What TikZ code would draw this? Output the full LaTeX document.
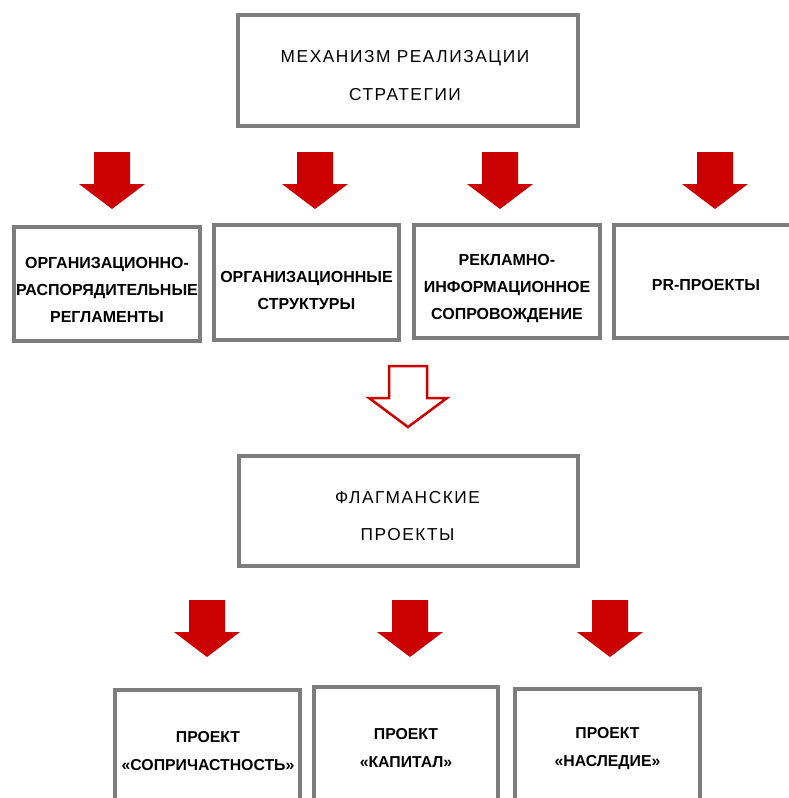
\documentclass[tikz,border=0pt]{standalone}
\usepackage{fontspec}
\setmainfont{Liberation Sans}
\newfontfamily\spacedfont{Liberation Sans}[LetterSpace=9]
\definecolor{boxgray}{RGB}{125,125,125}
\definecolor{arrowred}{RGB}{204,0,0}
\tikzset{
  box/.style={draw=boxgray, line width=3.5pt, fill=white, rectangle, inner sep=0pt},
  headtxt/.style={font=\spacedfont\fontsize{17.3}{38}\selectfont, align=center, inner sep=0pt},
  bodytxt/.style={font=\bfseries\fontsize{16}{27}\selectfont, align=center, inner sep=0pt},
  redarrow/.pic={\fill[arrowred] (-18,0) -- (18,0) -- (18,32) -- (33,32) -- (0,57) -- (-33,32) -- (-18,32) -- cycle;},
  hollowarrow/.pic={\draw[arrowred, line width=2.5pt, fill=white, line join=miter] (-19,0) -- (19,0) -- (19,32) -- (39,32) -- (0,61) -- (-39,32) -- (-19,32) -- cycle;}
}
\begin{document}
\begin{tikzpicture}[x=1pt,y=-1pt]
\clip (0,0) rectangle (789,798);
\fill[white] (0,0) rectangle (789,798);
% top box
\node[box, minimum width=340, minimum height=111] (top) at (408,70.5) {};
\node[headtxt] (toptxt) at (405,76) {МЕХАНИЗМ РЕАЛИЗАЦИИ\\СТРАТЕГИИ};
% red arrows row 1
\pic at (112,152) {redarrow};
\pic at (315,152) {redarrow};
\pic at (500,152) {redarrow};
\pic at (715,152) {redarrow};
% middle boxes
\node[box, minimum width=186, minimum height=114] (m1) at (107,284) {};
\node[bodytxt] (m1txt) at (107,289.5) {ОРГАНИЗАЦИОННО-\\РАСПОРЯДИТЕЛЬНЫЕ\\РЕГЛАМЕНТЫ};
\node[box, minimum width=185, minimum height=115] (m2) at (306.5,282.5) {};
\node[bodytxt] (m2txt) at (306.5,290.5) {ОРГАНИЗАЦИОННЫЕ\\СТРУКТУРЫ};
\node[box, minimum width=186, minimum height=113] (m3) at (507,281.5) {};
\node[bodytxt] (m3txt) at (507,288.5) {РЕКЛАМНО-\\ИНФОРМАЦИОННОЕ\\СОПРОВОЖДЕНИЕ};
\node[box, minimum width=186, minimum height=113] (m4) at (707,281.5) {};
\node[bodytxt] (m4txt) at (706,285) {PR-ПРОЕКТЫ};
% hollow arrow
\pic at (408,366) {hollowarrow};
% flagship box
\node[box, minimum width=339, minimum height=110] (flag) at (408.5,511) {};
\node[headtxt, font=\spacedfont\fontsize{17.3}{37}\selectfont] (flagtxt) at (407.5,516.5) {ФЛАГМАНСКИЕ\\ПРОЕКТЫ};
% red arrows row 2
\pic at (207,600) {redarrow};
\pic at (410,600) {redarrow};
\pic at (610,600) {redarrow};
% bottom boxes
\node[box, minimum width=185, minimum height=120] (b1) at (207.5,750) {};
\node[bodytxt, font=\bfseries\fontsize{15.8}{28}\selectfont] (b1txt) at (208,751) {ПРОЕКТ\\«СОПРИЧАСТНОСТЬ»};
\node[box, minimum width=184, minimum height=120] (b2) at (406,747) {};
\node[bodytxt, font=\bfseries\fontsize{15.8}{28}\selectfont] (b2txt) at (406,748.5) {ПРОЕКТ\\«КАПИТАЛ»};
\node[box, minimum width=185, minimum height=120] (b3) at (607.5,749) {};
\node[bodytxt, font=\bfseries\fontsize{15.8}{28}\selectfont] (b3txt) at (607.5,748.5) {ПРОЕКТ\\«НАСЛЕДИЕ»};
\end{tikzpicture}
\end{document}
